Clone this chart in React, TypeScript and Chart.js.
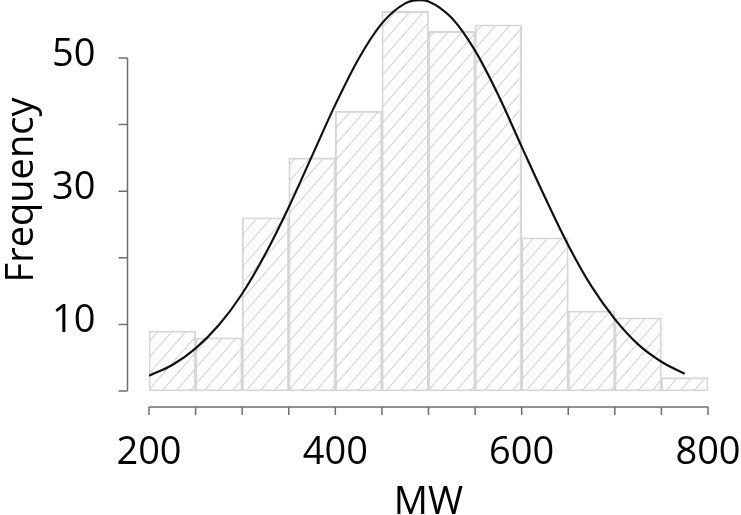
import React, { useEffect, useRef } from "react";
import { Chart, registerables } from "chart.js";

Chart.register(...registerables);

// ---- data ----
const binCenters = [225, 275, 325, 375, 425, 475, 525, 575, 625, 675, 725, 775];
const binCounts = [9, 8, 26, 35, 42, 57, 54, 55, 23, 12, 11, 2];

const curveX = [200, 225, 250, 275, 300, 325, 350, 375, 400, 425, 450, 475, 490, 500, 525, 550, 575, 600, 625, 650, 675, 700, 725, 750, 775];
const curveY = [2.3, 3.9, 6.4, 9.9, 14.6, 20.6, 27.6, 35.3, 43.0, 49.9, 55.2, 58.2, 58.7, 58.5, 56.0, 51.1, 44.4, 36.7, 29.1, 21.9, 15.7, 10.8, 7.0, 4.4, 2.6];

const xTickValues = [200, 250, 300, 350, 400, 450, 500, 550, 600, 650, 700, 750, 800];
const xLabelValues = [200, 400, 600, 800];
const yTickValues = [0, 10, 20, 30, 40, 50];
const yLabelValues = [10, 30, 50];

const xTitle = "MW";
const yTitle = "Frequency";

const FONT = '"Open Sans", "DejaVu Sans", sans-serif';
const AXIS_COLOR = "#6e6e6e";

function makeHatch(ctx: CanvasRenderingContext2D): CanvasPattern | string {
  const W = 14;
  const H = 16;
  const tile = document.createElement("canvas");
  tile.width = W;
  tile.height = H;
  const t = tile.getContext("2d");
  if (!t) return "#eeeeee";
  t.strokeStyle = "#d4d4d4";
  t.lineWidth = 1.1;
  for (let k = -1; k <= 1; k++) {
    t.beginPath();
    t.moveTo(k * W - W, 2 * H);
    t.lineTo(k * W + 2 * W, -H);
    t.stroke();
  }
  return ctx.createPattern(tile, "repeat") || "#eeeeee";
}

const axesPlugin = {
  id: "rAxes",
  afterDraw(chart: any) {
    const { ctx, scales } = chart;
    const x = scales.x;
    const y = scales.y;
    const base = y.getPixelForValue(0);
    const xAxisY = base + 16;
    const yAxisX = x.getPixelForValue(200) - 21.5;

    ctx.save();
    ctx.strokeStyle = AXIS_COLOR;
    ctx.lineWidth = 1.5;

    // x axis
    ctx.beginPath();
    ctx.moveTo(x.getPixelForValue(xTickValues[0]), xAxisY);
    ctx.lineTo(x.getPixelForValue(xTickValues[xTickValues.length - 1]), xAxisY);
    for (const v of xTickValues) {
      const px = x.getPixelForValue(v);
      ctx.moveTo(px, xAxisY);
      ctx.lineTo(px, xAxisY + 8);
    }
    ctx.stroke();

    // y axis
    ctx.beginPath();
    ctx.moveTo(yAxisX, y.getPixelForValue(yTickValues[0]));
    ctx.lineTo(yAxisX, y.getPixelForValue(yTickValues[yTickValues.length - 1]));
    for (const v of yTickValues) {
      const py = y.getPixelForValue(v);
      ctx.moveTo(yAxisX, py);
      ctx.lineTo(yAxisX - 9, py);
    }
    ctx.stroke();

    ctx.fillStyle = "#000";
    ctx.font = `38px ${FONT}`;
    ctx.textBaseline = "alphabetic";

    ctx.textAlign = "center";
    for (const v of xLabelValues) {
      ctx.fillText(String(v), x.getPixelForValue(v), xAxisY + 57);
    }

    ctx.textAlign = "right";
    for (const v of yLabelValues) {
      ctx.fillText(String(v), yAxisX - 32, y.getPixelForValue(v) + 8);
    }

    // titles
    ctx.textAlign = "center";
    ctx.fillText(xTitle, x.getPixelForValue(500), xAxisY + 107);

    ctx.save();
    ctx.translate(33, 190);
    ctx.rotate(-Math.PI / 2);
    ctx.fillText(yTitle, 0, 0);
    ctx.restore();

    ctx.restore();
  },
};

export default function App() {
  const canvasRef = useRef<HTMLCanvasElement | null>(null);

  useEffect(() => {
    const canvas = canvasRef.current;
    if (!canvas) return;
    const ctx = canvas.getContext("2d");
    if (!ctx) return;
    const hatch = makeHatch(ctx);

    const chart = new Chart(ctx, {
      type: "bar",
      data: {
        datasets: [
          {
            type: "line",
            data: curveX.map((v, i) => ({ x: v, y: curveY[i] })),
            borderColor: "#111111",
            borderWidth: 2.2,
            pointRadius: 0,
            cubicInterpolationMode: "monotone",
            fill: false,
            order: 0,
          } as any,
          {
            type: "bar",
            data: binCenters.map((v, i) => ({ x: v, y: binCounts[i] })),
            backgroundColor: hatch as any,
            borderColor: "#d6d6d6",
            borderWidth: 1.2,
            borderSkipped: false,
            barPercentage: 1,
            categoryPercentage: 1,
            order: 1,
          } as any,
        ],
      },
      options: {
        responsive: false,
        animation: false,
        events: [],
        layout: { padding: { left: 149, right: 33, top: 0, bottom: 124 } },
        plugins: { legend: { display: false }, tooltip: { enabled: false } },
        scales: {
          x: {
            type: "linear",
            min: 200,
            max: 800,
            offset: false,
            display: false,
            grid: { offset: false },
          },
          y: {
            type: "linear",
            min: 0,
            max: 58.71,
            display: false,
          },
        },
      } as any,
      plugins: [axesPlugin],
    });

    return () => chart.destroy();
  }, []);

  return (
    <div style={{ position: "absolute", left: 0, top: 0, width: 741, height: 515, background: "#fff" }}>
      <canvas ref={canvasRef} width={741} height={515} style={{ display: "block" }} />
    </div>
  );
}
